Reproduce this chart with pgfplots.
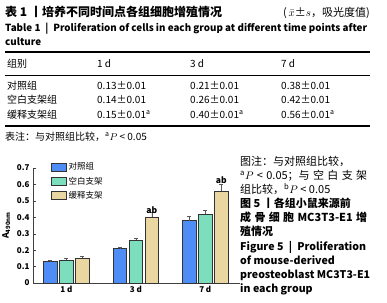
\documentclass[border=0pt]{standalone}
\usepackage{fontspec}
\setmainfont{Noto Sans CJK SC}
\usepackage{pgfplots}
\pgfplotsset{compat=1.18}
\definecolor{cblue}{RGB}{77,141,245}
\definecolor{cgreen}{RGB}{125,222,190}
\definecolor{ctan}{RGB}{234,214,160}
\newcommand{\fs}[1]{\fontsize{#1bp}{#1bp}\selectfont}
\begin{document}
\begin{tikzpicture}
\useasboundingbox (0,0) rectangle (387bp,-303bp);
\begin{scope}[x=1bp,y=-1bp,every node/.style={inner sep=0pt}]
% table
\node[anchor=base west,font=\fs{12}\bfseries] at (5,16) {表 1 丨培养不同时间点各组细胞增殖情况};
\node[anchor=base east,font=\fs{11}] at (370,16) {(\,$\bar{x}$±$s$，吸光度值)};
\node[anchor=base west,font=\fs{9.8}\bfseries] at (5,31) {Table 1\enspace|\enspace Proliferation of cells in each group at different time points after};
\node[anchor=base west,font=\fs{9.8}\bfseries] at (5,45) {culture};
\draw[line width=1.2bp] (5,52) -- (370,52);
\draw[line width=0.5bp] (5,75) -- (370,75);
\draw[line width=1.2bp] (5,126) -- (370,126);
\begin{scope}[every node/.style={anchor=base west,inner sep=0pt,font=\fs{10}}]
\node at (7,67) {组别};
\node at (97,67) {1 d};
\node at (190,67) {3 d};
\node at (281,67) {7 d};
\node at (7,89) {对照组};
\node at (97,89) {0.13±0.01};
\node at (190,89) {0.21±0.01};
\node at (281,89) {0.38±0.01};
\node at (7,103) {空白支架组};
\node at (97,103) {0.14±0.01};
\node at (190,103) {0.26±0.01};
\node at (281,103) {0.42±0.01};
\node at (7,118) {缓释支架组};
\node at (97,118) {0.15±0.01\textsuperscript{a}};
\node at (190,118) {0.40±0.01\textsuperscript{a}};
\node at (281,118) {0.56±0.01\textsuperscript{a}};
\node at (5,140) {表注：与对照组比较，\textsuperscript{a}$P$ < 0.05};
\end{scope}
% caption
\begin{scope}[every node/.style={anchor=base west,inner sep=0pt,font=\fs{11}}]
\node at (240,165) {图注：与对照组比较，};
\node at (240,179) {\makebox[127bp][s]{\textsuperscript{a}$P$ < 0.05；与 空 白 支 架}};
\node at (240,193) {组比较，\textsuperscript{b}$P$ < 0.05};
\node[font=\fs{11}\bfseries] at (240,207) {图 5 丨各组小鼠来源前};
\node[font=\fs{11}\bfseries] at (240,221) {\makebox[127bp][s]{成 骨 细 胞 MC3T3-E1 增}};
\node[font=\fs{11}\bfseries] at (240,235) {殖情况};
\node[font=\fs{10.6}\bfseries] at (240,250) {Figure 5\enspace|\enspace Proliferation};
\node[font=\fs{10.6}\bfseries] at (240,264) {of mouse-derived};
\node[font=\fs{10.6}\bfseries] at (240,278) {preosteoblast MC3T3-E1};
\node[font=\fs{10.6}\bfseries] at (240,292) {in each group};
\end{scope}
\end{scope}
\begin{axis}[
  at={(33bp,-283bp)}, anchor=south west,
  scale only axis, width=207bp, height=115bp,
  xmin=-0.48, xmax=2.5, ymin=0, ymax=0.7,
  axis x line=bottom, axis y line=left, axis line style={-, black!75, line width=0.6bp},
  ybar=2.5bp, bar width=13.5bp,
  xtick={0,1,2}, xticklabels={1 d,3 d,7 d},
  x tick style={draw=none},
  ytick={0,0.1,0.2,0.3,0.4,0.5,0.6,0.7},
  y tick style={black!75},
  tick align=inside, major tick length=2.5bp,
  ticklabel style={font=\fs{8}\bfseries},
  yticklabel style={/pgf/number format/fixed, /pgf/number format/precision=1, /pgf/number format/assume math mode=true},
  ylabel={\bfseries\textit{A}\textsubscript{490nm}},
  ylabel style={font=\fs{8.5}},
  legend style={draw=none, fill=none, at={(0.085,1.065)}, anchor=north west, font=\fs{8.5}, row sep=1.5bp, inner sep=0pt},
  legend cell align=left,
  legend image code/.code={\draw[#1] (0bp,-4bp) rectangle (15bp,4bp);},
  error bars/y dir=plus, error bars/y explicit,
  error bars/error bar style={black!65, line width=0.6bp},
  error bars/error mark options={rotate=90, mark size=2bp, black!65, line width=0.6bp},
]
\addplot[fill=cblue, draw=black!80, line width=0.9bp] coordinates {(0,0.13) +- (0,0.01) (1,0.21) +- (0,0.01) (2,0.38) +- (0,0.025)};
\addplot[fill=cgreen, draw=black!80, line width=0.9bp] coordinates {(0,0.14) +- (0,0.008) (1,0.26) +- (0,0.015) (2,0.42) +- (0,0.025)};
\addplot[fill=ctan, draw=black!80, line width=0.9bp] coordinates {(0,0.15) +- (0,0.01) (1,0.40) +- (0,0.03) (2,0.56) +- (0,0.04)};
\legend{对照组,空白支架,缓释支架}
\node[font=\fs{8.5}\bfseries] at (axis cs:1.23,0.445) {ab};
\node[font=\fs{8.5}\bfseries] at (axis cs:2.23,0.623) {ab};
\end{axis}
\end{tikzpicture}
\end{document}
